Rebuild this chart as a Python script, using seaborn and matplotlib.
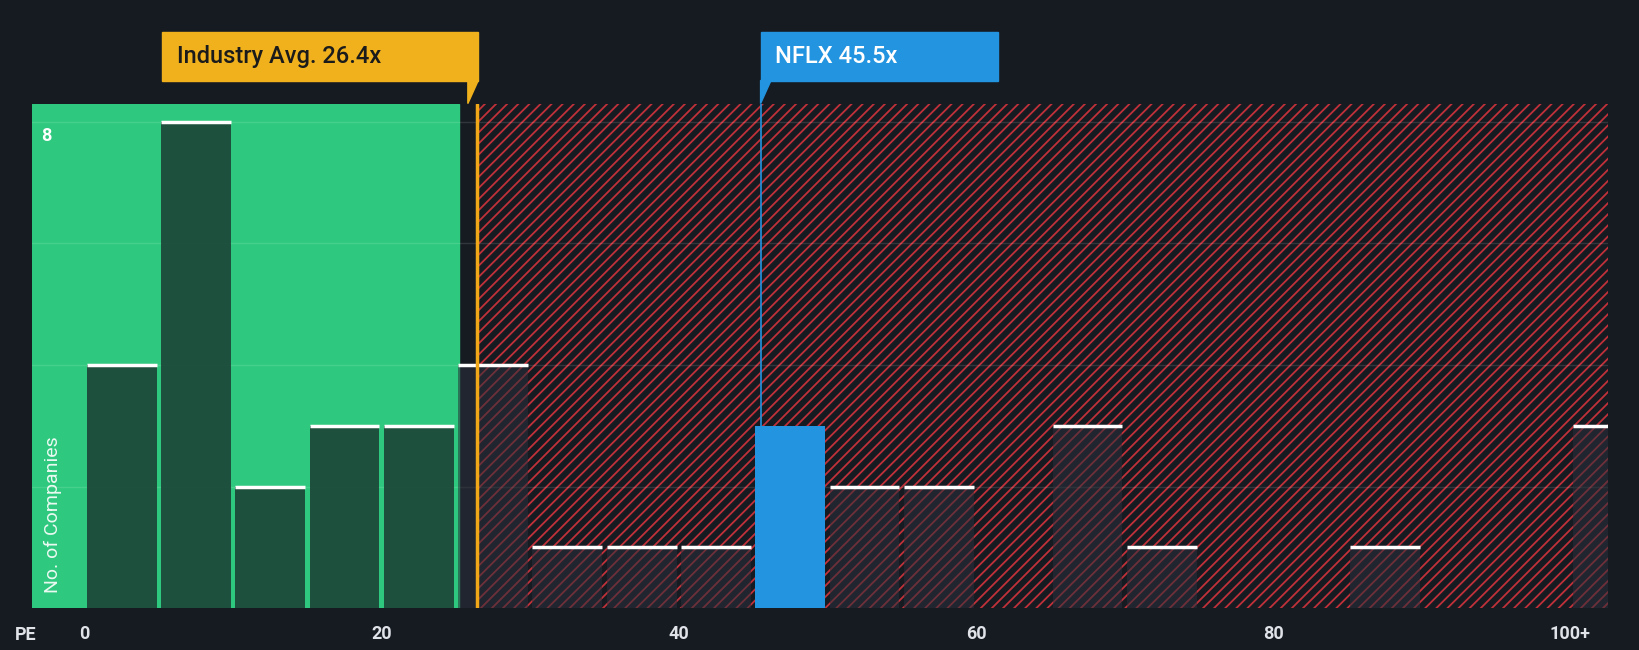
import matplotlib
matplotlib.use("Agg")
from matplotlib import pyplot as plt
from matplotlib.patches import Rectangle, Polygon
import numpy as np
import seaborn as sns

bin_left = [0, 5, 10, 15, 20, 25, 30, 35, 40, 45, 50, 55, 60, 65, 70, 75, 80, 85, 90, 95, 100]
counts = [4, 8, 2, 3, 3, 4, 1, 1, 1, 3, 2, 2, 0, 3, 1, 0, 0, 1, 0, 0, 3]
tick_vals = [0, 20, 40, 60, 80, 100]
tick_text = ["0", "20", "40", "60", "80", "100+"]
industry_avg = 26.4
nflx = 45.5
fair_edge = 25.2

bg = "#161b22"
sns.set_style("dark")
plt.rcParams['font.family'] = ['Roboto', 'DejaVu Sans']
plt.rcParams['hatch.linewidth'] = 1.3

fig = plt.figure(figsize=(16.4, 6.5), dpi=100, facecolor=bg)
ax = fig.add_axes([0.0198, 0.0644, 0.9604, 0.7762])
ax.set_facecolor(bg)
xmin, xmax, ymax = -3.5, 102.5, 8.3
ax.set_xlim(xmin, xmax)
ax.set_ylim(0, ymax)

# zones
ax.add_patch(Rectangle((xmin, 0), fair_edge - xmin, ymax, color="#2ec97e", zorder=0))
ax.add_patch(Rectangle((industry_avg, 0), xmax - industry_avg, ymax, facecolor=bg,
                       edgecolor="#c0313a", hatch="///", linewidth=0, zorder=0))
for g in [2, 4, 6, 8]:
    ax.axhline(g, color="white", alpha=0.12, lw=1, zorder=1)

centers = [b + 2.5 for b in bin_left]
edges = bin_left + [105]
sns.histplot(x=centers, weights=counts, bins=edges, ax=ax, zorder=2,
             element="bars", linewidth=0, shrink=0.94)
for p, c, b in zip(ax.patches[2:], counts, bin_left):
    if b <= nflx < b + 5:
        p.set_facecolor("#2394e0"); p.set_alpha(1)
    elif b + 5 <= fair_edge:
        p.set_facecolor("#1d4b3a"); p.set_alpha(0.95)
    else:
        p.set_facecolor("#2a2f3a"); p.set_alpha(0.55)
for c, b in zip(counts, bin_left):
    if c > 0 and not (b <= nflx < b + 5):
        ax.hlines(c, b + 0.15, b + 4.85, color="white", lw=2.5, zorder=4)

ax.axvline(industry_avg, color="#f0a818", lw=2.5, zorder=5)
ax.axvline(nflx, color="#2394e0", lw=1.2, zorder=5)

ax.set_xticks(tick_vals)
ax.set_xticklabels(tick_text, color="#e0e3e8", fontsize=13, fontweight="bold")
ax.set_yticks([])
ax.set_ylabel("")
ax.tick_params(axis="x", length=0, pad=12)
ax.text(-2.9, 7.76, "8", color="white", fontsize=13, fontweight="bold", va="center")
ax.text(-2.1, 0.25, "No. of Companies", rotation=90, color="white", fontsize=14,
        va="bottom", ha="center", alpha=0.9)
fig.text(0.009, 0.015, "PE", color="#e0e3e8", fontsize=13, fontweight="bold")
for s in ax.spines.values():
    s.set_visible(False)

# label boxes
def label(x0, x1, px, text, fc, tc):
    y0, y1 = 8.68, 9.47
    ax.add_patch(Rectangle((x0, y0), x1 - x0, y1 - y0, color=fc, clip_on=False, zorder=6))
    ax.add_patch(Polygon([(px, y0), (px + 0.7, y0), (px, ymax)], color=fc,
                         clip_on=False, zorder=6))
    ax.text(x0 + 1.0, (y0 + y1) / 2, text, color=tc, fontsize=17, va="center",
            fontweight="medium", zorder=7)

label(5.2, 26.5, 25.8, "Industry Avg. 26.4x", "#f0b11d", "#1b1b1b")
label(45.5, 61.5, 45.5, "NFLX 45.5x", "#2394e0", "white")

fig.savefig("out.png", facecolor=bg)
